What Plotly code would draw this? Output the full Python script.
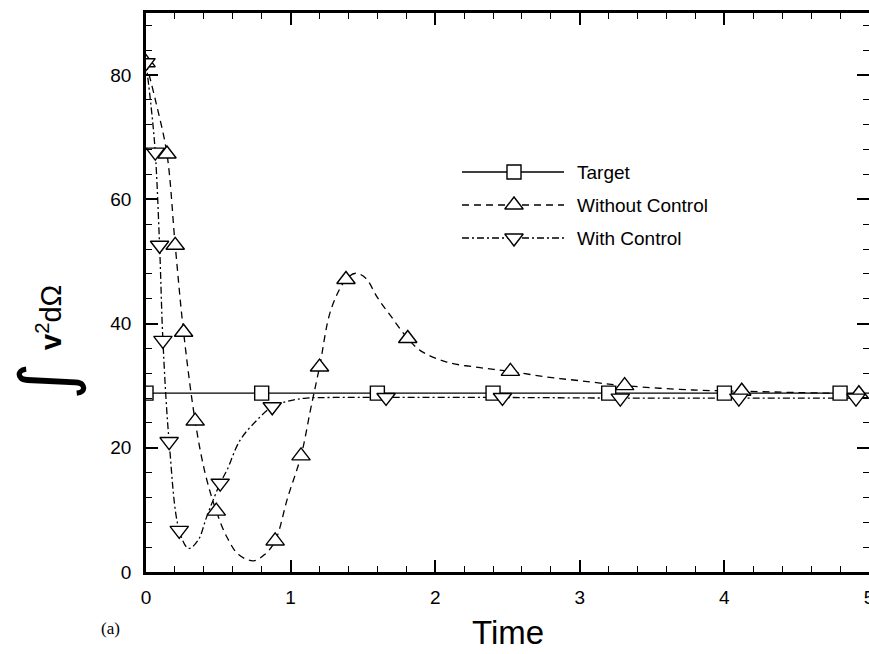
import plotly.graph_objects as go

# ---------------- data ----------------
# Target (constant)
t_target = [0, 0.8, 1.6, 2.4, 3.2, 4.0, 4.8, 5.0]
v_target = [28.8, 28.8, 28.8, 28.8, 28.8, 28.8, 28.8, 28.8]
t_target_mk = [0, 0.8, 1.6, 2.4, 3.2, 4.0, 4.8]
v_target_mk = [28.8, 28.8, 28.8, 28.8, 28.8, 28.8, 28.8]

# Without control (curve)
t_wo = [0, 0.07, 0.145, 0.202, 0.26, 0.34, 0.41, 0.486, 0.56, 0.64, 0.743, 0.82,
        0.893, 0.98, 1.072, 1.14, 1.2, 1.28, 1.383, 1.45, 1.52, 1.6, 1.69, 1.81,
        1.9, 2.08, 2.31, 2.52, 2.77, 3.0, 3.31, 3.78, 4.12, 4.5, 4.93, 5.0]
v_wo = [82, 75.5, 67.3, 52.6, 38.6, 24.3, 15.8, 9.8, 5.6, 2.8, 1.8, 2.8,
        5.0, 12.0, 18.7, 26.4, 33.0, 42.3, 47.1, 48.1, 47.3, 44.2, 41.3, 37.6,
        35.6, 33.8, 32.9, 32.3, 31.4, 30.8, 30.0, 29.3, 29.1, 28.9, 28.7, 28.7]
# Without control (markers)
t_wo_mk = [0, 0.145, 0.202, 0.26, 0.34, 0.486, 0.893, 1.072, 1.2, 1.383, 1.81, 2.52, 3.31, 4.12, 4.93]
v_wo_mk = [82, 67.3, 52.6, 38.6, 24.3, 9.8, 5.0, 18.7, 33.0, 47.1, 37.6, 32.3, 30.0, 29.1, 28.7]

# With control (curve)
t_wc = [0, 0.035, 0.064, 0.094, 0.117, 0.16, 0.23, 0.295, 0.36, 0.42, 0.513, 0.56,
        0.65, 0.765, 0.873, 1.0, 1.11, 1.3, 1.66, 2.465, 3.28, 4.1, 4.91, 5.0]
v_wc = [82, 75, 67.6, 52.6, 37.3, 21.0, 6.7, 3.8, 5.1, 8.9, 14.3, 16.4,
        21.2, 24.4, 26.6, 27.6, 28.0, 28.1, 28.1, 28.1, 28.0, 28.0, 28.0, 28.0]
# With control (markers)
t_wc_mk = [0, 0.064, 0.094, 0.117, 0.16, 0.23, 0.513, 0.873, 1.66, 2.465, 3.28, 4.1, 4.91]
v_wc_mk = [82, 67.6, 52.6, 37.3, 21.0, 6.7, 14.3, 26.6, 28.1, 28.1, 28.0, 28.0, 28.0]

series_names = ["Target", "Without Control", "With Control"]
x_ticks = [0, 1, 2, 3, 4, 5]
y_ticks = [0, 20, 40, 60, 80]

# ---------------- layout geometry ----------------
W, H = 869, 654
L, R, T, B = 146, 0, 13, 82
PW, PH = W - L - R, H - T - B

def px_x(px):
    return (px - L) / PW

def px_y(py):
    return (H - B - py) / PH

FONT = "Liberation Sans, Arial, Helvetica, sans-serif"
BLACK = "black"
LW = 1.3
MK_LINE = dict(color=BLACK, width=1.4)
DASH_WO = "7px,5px"
DASH_WC = "7px,3px,2px,3px"

fig = go.Figure()

# curves
fig.add_trace(go.Scatter(x=t_target, y=v_target, mode="lines",
                         line=dict(color=BLACK, width=LW), showlegend=False))
fig.add_trace(go.Scatter(x=t_wo, y=v_wo, mode="lines", line_shape="spline",
                         line=dict(color=BLACK, width=LW, dash=DASH_WO), showlegend=False))
fig.add_trace(go.Scatter(x=t_wc, y=v_wc, mode="lines", line_shape="spline",
                         line=dict(color=BLACK, width=LW, dash=DASH_WC), showlegend=False))

# markers
fig.add_trace(go.Scatter(x=t_target_mk, y=v_target_mk, mode="markers",
                         marker=dict(symbol="square", size=14, color="white", line=MK_LINE),
                         showlegend=False))
fig.add_trace(go.Scatter(x=t_wo_mk, y=v_wo_mk, mode="markers",
                         marker=dict(symbol="triangle-up", size=16, color="white", line=MK_LINE),
                         showlegend=False))
fig.add_trace(go.Scatter(x=t_wc_mk, y=v_wc_mk, mode="markers",
                         marker=dict(symbol="triangle-down", size=16, color="white", line=MK_LINE),
                         showlegend=False))

# ---------------- custom legend (overlay axes in plot fraction) ----------------
leg_rows_py = [172, 205, 238]
leg_x0, leg_x1, leg_xm, leg_tx = 462, 564, 514, 575
leg_dash = ["solid", DASH_WO, DASH_WC]
leg_sym = ["square", "triangle-up", "triangle-down"]
leg_size = [14, 16, 16]
for i, name in enumerate(series_names):
    yy = px_y(leg_rows_py[i])
    fig.add_trace(go.Scatter(x=[px_x(leg_x0), px_x(leg_x1)], y=[yy, yy], mode="lines",
                             line=dict(color=BLACK, width=LW, dash=leg_dash[i]),
                             xaxis="x2", yaxis="y2", showlegend=False, hoverinfo="skip"))
    fig.add_trace(go.Scatter(x=[px_x(leg_xm)], y=[yy], mode="markers",
                             marker=dict(symbol=leg_sym[i], size=leg_size[i], color="white", line=MK_LINE),
                             xaxis="x2", yaxis="y2", showlegend=False, hoverinfo="skip"))
    fig.add_annotation(x=px_x(leg_tx), y=yy, xref="x2", yref="y2", text=name,
                       showarrow=False, xanchor="left", yanchor="middle",
                       font=dict(family=FONT, size=19, color=BLACK))

axis_common = dict(
    showline=True, linecolor=BLACK, linewidth=2.5, mirror="ticks",
    ticks="inside", ticklen=12, tickwidth=1.5, tickcolor=BLACK,
    showgrid=False, zeroline=False, automargin=False, ticklabeloverflow="allow",
    tickfont=dict(family=FONT, size=19, color=BLACK),
)

fig.update_layout(
    width=W, height=H,
    margin=dict(l=L, r=R, t=T, b=B, pad=0, autoexpand=False),
    paper_bgcolor="white", plot_bgcolor="white",
    showlegend=False,
    xaxis=dict(range=[0, 5], tickvals=x_ticks, ticktext=[str(v) for v in x_ticks],
               minor=dict(dtick=0.2, ticklen=6, tickwidth=1.2, tickcolor=BLACK, ticks="inside", showgrid=False),
               ticklabelstandoff=6, **axis_common),
    yaxis=dict(range=[0, 90], tickvals=y_ticks, ticktext=[str(v) for v in y_ticks],
               minor=dict(dtick=4, ticklen=6, tickwidth=1.2, tickcolor=BLACK, ticks="inside", showgrid=False),
               ticklabelstandoff=8, **axis_common),
    xaxis2=dict(range=[0, 1], overlaying="x", visible=False, fixedrange=True),
    yaxis2=dict(range=[0, 1], overlaying="y", visible=False, fixedrange=True),
)

# axis titles and panel label
fig.add_annotation(x=px_x(508), y=px_y(632), xref="paper", yref="paper", text="Time",
                   showarrow=False, xanchor="center", yanchor="middle",
                   font=dict(family=FONT, size=33, color=BLACK))
fig.add_annotation(x=px_x(110), y=px_y(628), xref="paper", yref="paper", text="(a)",
                   showarrow=False, xanchor="center", yanchor="middle",
                   font=dict(family="Liberation Serif, Times New Roman, serif", size=17, color=BLACK))
fig.add_annotation(x=px_x(46), y=px_y(381), xref="paper", yref="paper", text="∫",
                   showarrow=False, xanchor="center", yanchor="middle", textangle=-90,
                   font=dict(family="DejaVu Sans, sans-serif", size=72, color=BLACK))
fig.add_annotation(x=px_x(49), y=px_y(318), xref="paper", yref="paper",
                   text="<b>v</b><sup>2</sup>dΩ",
                   showarrow=False, xanchor="center", yanchor="middle", textangle=-90,
                   font=dict(family=FONT, size=29, color=BLACK))

fig.write_html("out.html", config={"displayModeBar": False},
               post_script="document.body.style.margin='0';document.body.style.padding='0';"
                           "document.body.style.overflow='hidden';")
